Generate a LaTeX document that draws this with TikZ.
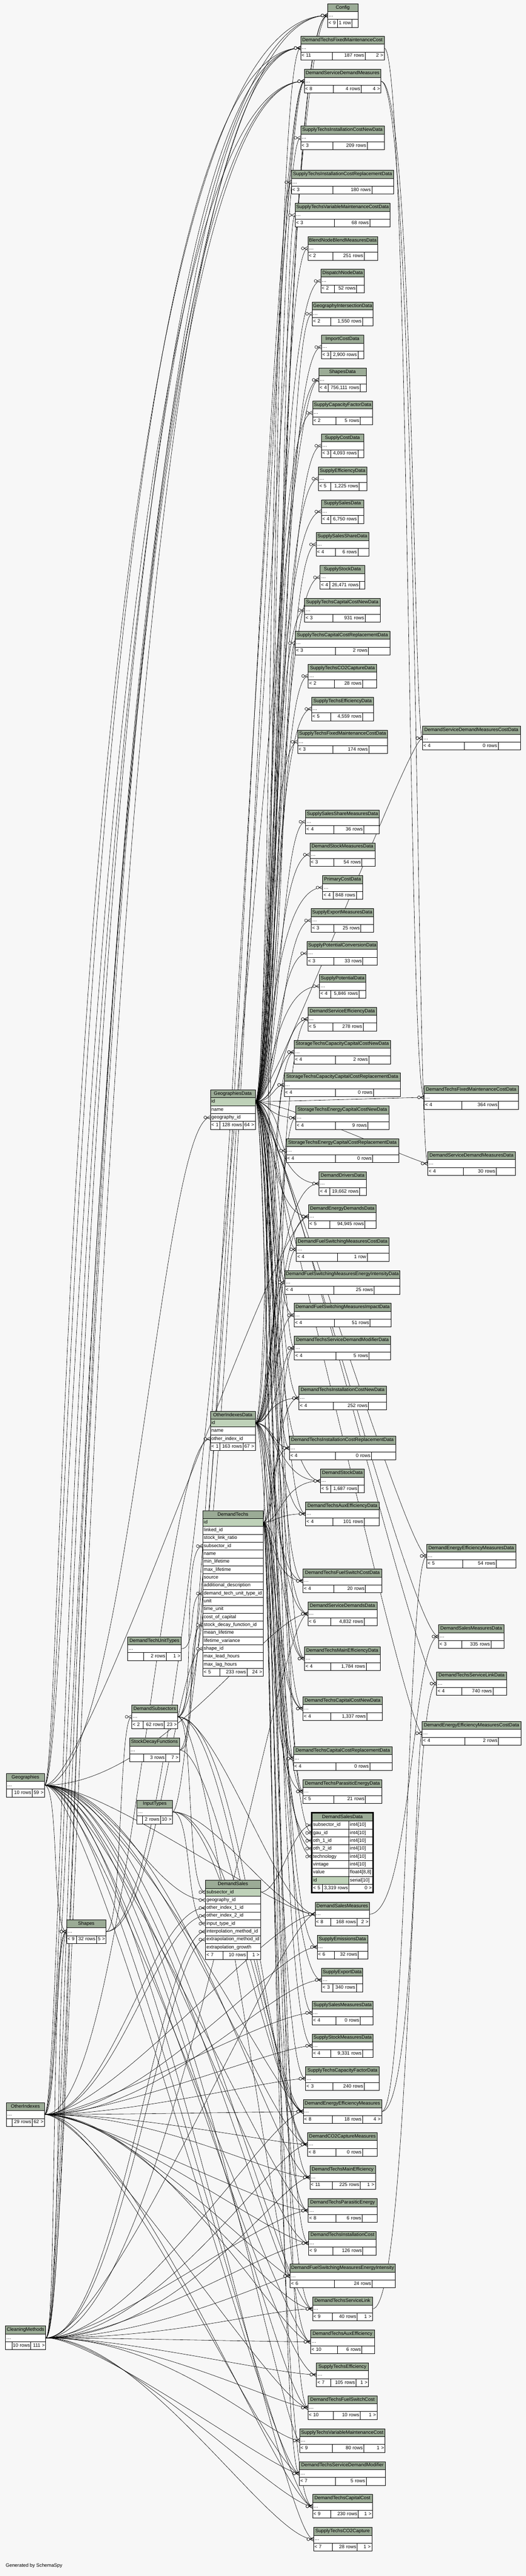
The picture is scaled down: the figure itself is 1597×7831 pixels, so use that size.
\documentclass[tikz,border=0pt]{standalone}
\usepackage{fontspec}
\setmainfont{Liberation Sans}
\pgfdeclarelayer{back}\pgfdeclarelayer{edges}\pgfsetlayers{back,edges,main}
\definecolor{bgc}{HTML}{F7F7F7}
\definecolor{hdrc}{HTML}{9BAB96}
\definecolor{pkc}{HTML}{BED1B8}
\newcommand\tf{\fontsize{11}{13}\selectfont}
\tikzset{
 cell/.style={draw=black, line width=0.75pt, inner xsep=2.25pt, inner ysep=0pt, outer sep=0pt, font=\tf, minimum height=18pt, text height=7.9pt, text depth=2.3pt},
 hd/.style={cell, fill=hdrc},
 bd/.style={cell, fill=white},
 pk/.style={cell, fill=pkc},
 edge/.style={line width=0.7pt, draw=black},
}
% style, align, name, x1, x2, yc, text
\newcommand\cellnode[7]{\pgfmathsetmacro\TW{(#5-#4)*0.75-4.5}\node[#1, text width=\TW pt, align=#2] (#3) at ({(#4+#5)/2},{#6}) {\mbox{#7}};}
\newcommand\tbl[5]{\def\tid{#1}\def\tx{#2}\def\ty{#3}\def\tX{#4}\def\ttl{#5}\tblB}
\newcommand\tblB[5]{%
 \cellnode{hd}{center}{\tid-h}{\tx}{\tX}{\ty+12}{\ttl}%
 \cellnode{bd}{left}{\tid}{\tx}{\tX}{\ty+36}{…}%
 \cellnode{bd}{left}{\tid-f1}{\tx}{#1}{\ty+60}{#3}%
 \cellnode{bd}{right}{\tid-f2}{#1}{#2}{\ty+60}{#4}%
 \cellnode{bd}{right}{\tid-f3}{#2}{\tX}{\ty+60}{#5}}
% footer of an expanded table: id, x1, s1, s2, x2, yc, c1, c2, c3
\newcommand\efoot[9]{%
 \cellnode{bd}{left}{#1-f1}{#2}{#3}{#6}{#7}%
 \cellnode{bd}{right}{#1-f2}{#3}{#4}{#6}{#8}%
 \cellnode{bd}{right}{#1-f3}{#4}{#5}{#6}{#9}}
\newcommand\crow[1]{%
 \draw[edge] (#1) ++(-11,0) -- ++(11,-5.5) (#1) ++(-11,0) -- ++(11,5.5);
 \draw[edge, fill=bgc] (#1) ++(-15.5,0) circle[radius=4.3];}
\newcommand\eCC[3]{\draw[edge] (#1.east) .. controls (#1.east -| k#3) and (#2.west -| k#3) .. (#2.west);\crow{#2.west}}
\newcommand\eRC[4]{\draw[edge] (#1.east) .. controls +(#3,0) and (#2.west -| k#4) .. (#2.west);\crow{#2.west}}
\newcommand\eRL[4]{\draw[edge] (#1.east) .. controls +(#3,0) and (#2.west -| l#4) .. (#2.west);\crow{#2.west}}
\newcommand\eKR[3]{\draw[edge] (#1.east) .. controls (#1.east -| k#3) and (#2.west -| r#3) .. (#2.west);\crow{#2.west}}
\newcommand\eRT[3]{\draw[edge] (#1.east) .. controls (#1.east -| r#3) and (#2.west -| r#3) .. (#2.west);\crow{#2.west}}
\newcommand\eRR[4]{\draw[edge] (#1.east) .. controls +(#3,0) and +(-#4,0) .. (#2.west);\crow{#2.west}}
\begin{document}
\begin{tikzpicture}[x=0.75pt,y=-0.75pt]
\useasboundingbox (0,0) rectangle (1597,7831);
\begin{pgfonlayer}{back}
\fill[bgc] (0,0) rectangle (1597,7831);
\end{pgfonlayer}
\foreach \n in {0,...,9}{\coordinate (k\n) at ({815+\n*5},0);\coordinate (r\n) at ({1226+\n*5},0);\coordinate (l\n) at ({185+\n*11},0);}
% ---------- main column ----------
\tbl{Config}{995}{11}{1087}{Config}{1024}{1069}{< 9}{1 row}{}
\tbl{DTFMC}{913}{110}{1167}{DemandTechsFixedMaintenanceCost}{1009}{1109}{< 11}{187 rows}{2 >}
\tbl{DSDM}{924}{211}{1157}{DemandServiceDemandMeasures}{1013}{1097}{< 8}{4 rows}{4 >}
\tbl{STICND}{913}{383}{1167}{SupplyTechsInstallationCostNewData}{1010}{1115}{< 3}{209 rows}{}
\tbl{STICRD}{885}{518}{1196}{SupplyTechsInstallationCostReplacementData}{1011}{1129}{< 3}{180 rows}{}
\tbl{STVMCD}{896}{618}{1185}{SupplyTechsVariableMaintenanceCostData}{1016}{1123}{< 3}{68 rows}{}
\tbl{BNBMD}{935}{719}{1147}{BlendNodeBlendMeasuresData}{1011}{1106}{< 2}{251 rows}{}
\tbl{DND}{974}{818}{1107}{DispatchNodeData}{1016}{1083}{< 2}{52 rows}{}
\tbl{GID}{948}{918}{1133}{GeographyIntersectionData}{1005}{1101}{< 2}{1,550 rows}{}
\tbl{ICD}{976}{1019}{1104}{ImportCostData}{1005}{1087}{< 3}{2,900 rows}{}
\tbl{SD}{968}{1119}{1112}{ShapesData}{997}{1094}{< 4}{756,111 rows}{}
\tbl{SCFD}{949}{1219}{1132}{SupplyCapacityFactorData}{1020}{1094}{< 2}{5 rows}{}
\tbl{SCD}{976}{1319}{1104}{SupplyCostData}{1005}{1087}{< 3}{4,093 rows}{}
\tbl{SED}{967}{1419}{1114}{SupplyEfficiencyData}{1005}{1091}{< 5}{1,225 rows}{}
\tbl{SSD}{976}{1519}{1104}{SupplySalesData}{1005}{1087}{< 4}{6,750 rows}{}
\tbl{SSSD}{960}{1619}{1120}{SupplySalesShareData}{1019}{1087}{< 4}{6 rows}{}
\tbl{SStD}{972}{1719}{1108}{SupplyStockData}{1001}{1092}{< 4}{26,471 rows}{}
\tbl{STCCND}{925}{1819}{1154}{SupplyTechsCapitalCostNewData}{1010}{1109}{< 3}{931 rows}{}
\tbl{STCCRD}{896}{1919}{1184}{SupplyTechsCapitalCostReplacementData}{1019}{1119}{< 3}{2 rows}{}
\tbl{STCOCD}{936}{2019}{1144}{SupplyTechsCO2CaptureData}{1015}{1101}{< 2}{28 rows}{}
\tbl{STED}{946}{2119}{1135}{SupplyTechsEfficiencyData}{1005}{1101}{< 5}{4,559 rows}{}
\tbl{STFMCD}{904}{2219}{1177}{SupplyTechsFixedMaintenanceCostData}{1011}{1120}{< 3}{174 rows}{}
\tbl{SSSMD}{928}{2462}{1152}{SupplySalesShareMeasuresData}{1014}{1105}{< 4}{36 rows}{}
\tbl{DSMD}{941}{2562}{1139}{DemandStockMeasuresData}{1014}{1099}{< 3}{54 rows}{}
\tbl{PCD}{980}{2662}{1101}{PrimaryCostData}{1012}{1082}{< 4}{848 rows}{}
\tbl{SEMD}{945}{2762}{1134}{SupplyExportMeasuresData}{1014}{1096}{< 3}{25 rows}{}
\tbl{SPCD}{933}{2862}{1146}{SupplyPotentialConversionData}{1014}{1102}{< 3}{33 rows}{}
\tbl{SPD}{970}{2962}{1111}{SupplyPotentialData}{1005}{1090}{< 4}{5,846 rows}{}
\tbl{DSED}{935}{3062}{1144}{DemandServiceEfficiencyData}{1011}{1103}{< 5}{278 rows}{}
\tbl{STCCCND}{893}{3162}{1186}{StorageTechsCapacityCapitalCostNewData}{1019}{1120}{< 4}{2 rows}{}
\tbl{STCCCRD}{863}{3262}{1216}{StorageTechsCapacityCapitalCostReplacementData}{1019}{1134}{< 4}{0 rows}{}
\tbl{STECCND}{898}{3362}{1181}{StorageTechsEnergyCapitalCostNewData}{1019}{1117}{< 4}{9 rows}{}
\tbl{STECCRD}{869}{3462}{1211}{StorageTechsEnergyCapitalCostReplacementData}{1019}{1132}{< 4}{0 rows}{}
\tbl{DDD}{969}{3562}{1112}{DemandDriversData}{1001}{1092}{< 4}{19,662 rows}{}
\tbl{DEDD}{937}{3662}{1142}{DemandEnergyDemandsData}{1001}{1108}{< 5}{94,945 rows}{}
\tbl{DFSMCD}{900}{3762}{1181}{DemandFuelSwitchingMeasuresCostData}{1024}{1115}{< 4}{1 row}{}
\tbl{DFSMEID}{865}{3862}{1214}{DemandFuelSwitchingMeasuresEnergyIntensityData}{1014}{1136}{< 4}{25 rows}{}
\tbl{DFSMID}{893}{3962}{1188}{DemandFuelSwitchingMeasuresImpactData}{1016}{1124}{< 4}{51 rows}{}
\tbl{DTSDMD}{894}{4062}{1186}{DemandTechsServiceDemandModifierData}{1020}{1121}{< 4}{5 rows}{}
\tbl{DTICND}{908}{4214}{1173}{DemandTechsInstallationCostNewData}{1012}{1119}{< 4}{252 rows}{}
\tbl{DTICRD}{879}{4366}{1201}{DemandTechsInstallationCostReplacementData}{1019}{1128}{< 4}{0 rows}{}
\tbl{DStD}{973}{4466}{1107}{DemandStockData}{1005}{1088}{< 5}{1,687 rows}{}
\tbl{DTAED}{928}{4566}{1152}{DemandTechsAuxEfficiencyData}{1011}{1106}{< 4}{101 rows}{}
\tbl{DTFSCD}{920}{4770}{1160}{DemandTechsFuelSwitchCostData}{1014}{1110}{< 4}{20 rows}{}
\tbl{DSDD}{935}{4870}{1145}{DemandServiceDemandsData}{1004}{1106}{< 6}{4,832 rows}{}
\tbl{DTMED}{925}{5006}{1154}{DemandTechsMainEfficiencyData}{1004}{1112}{< 4}{1,784 rows}{}
\tbl{DTCCND}{920}{5158}{1161}{DemandTechsCapitalCostNewData}{1005}{1114}{< 4}{1,337 rows}{}
\tbl{DTCCRD}{891}{5310}{1191}{DemandTechsCapitalCostReplacementData}{1020}{1123}{< 4}{0 rows}{}
\tbl{DTPED}{920}{5410}{1160}{DemandTechsParasiticEnergyData}{1014}{1110}{< 5}{21 rows}{}
\tbl{DSM}{957}{5783}{1122}{DemandSalesMeasures}{1005}{1084}{< 8}{168 rows}{2 >}
\tbl{SEmD}{963}{5883}{1117}{SupplyEmissionsData}{1016}{1088}{< 6}{32 rows}{}
\tbl{SExD}{977}{5983}{1102}{SupplyExportData}{1011}{1082}{< 3}{340 rows}{}
\tbl{SSMD}{948}{6083}{1133}{SupplySalesMeasuresData}{1020}{1094}{< 4}{0 rows}{}
\tbl{SStMD}{948}{6183}{1133}{SupplyStockMeasuresData}{1005}{1101}{< 4}{9,331 rows}{}
\tbl{STCFD}{928}{6283}{1152}{SupplyTechsCapacityFactorData}{1011}{1106}{< 3}{240 rows}{}
\tbl{DEEM}{921}{6383}{1159}{DemandEnergyEfficiencyMeasures}{1009}{1101}{< 8}{18 rows}{4 >}
\tbl{DCOCM}{934}{6483}{1146}{DemandCO2CaptureMeasures}{1020}{1101}{< 8}{0 rows}{}
\tbl{DTME}{941}{6583}{1140}{DemandTechsMainEfficiency}{1009}{1094}{< 11}{225 rows}{1 >}
\tbl{DTPE}{936}{6684}{1145}{DemandTechsParasiticEnergy}{1020}{1100}{< 8}{6 rows}{}
\tbl{DTIC}{937}{6783}{1143}{DemandTechsInstallationCost}{1011}{1102}{< 9}{126 rows}{}
\tbl{DFSMEI}{881}{6883}{1200}{DemandFuelSwitchingMeasuresEnergyIntensity}{1016}{1130}{< 6}{24 rows}{}
\tbl{DTSL}{949}{6983}{1131}{DemandTechsServiceLink}{1009}{1085}{< 9}{40 rows}{1 >}
\tbl{DTAE}{943}{7083}{1137}{DemandTechsAuxEfficiency}{1024}{1099}{< 10}{6 rows}{}
\tbl{STE}{961}{7183}{1119}{SupplyTechsEfficiency}{1005}{1081}{< 7}{105 rows}{1 >}
\tbl{DTFSC}{935}{7283}{1145}{DemandTechsFuelSwitchCost}{1013}{1094}{< 10}{10 rows}{1 >}
\tbl{STVMC}{910}{7383}{1169}{SupplyTechsVariableMaintenanceCost}{1009}{1105}{< 9}{80 rows}{1 >}
\tbl{DTSDM}{909}{7483}{1171}{DemandTechsServiceDemandModifier}{1019}{1112}{< 7}{5 rows}{}
\tbl{DTCC}{949}{7583}{1131}{DemandTechsCapitalCost}{1005}{1088}{< 9}{230 rows}{1 >}
\tbl{STCOC}{952}{7683}{1129}{SupplyTechsCO2Capture}{1009}{1085}{< 7}{28 rows}{1 >}
% ---------- right column ----------
\tbl{DSDMCD}{1283}{2208}{1580}{DemandServiceDemandMeasuresCostData}{1410}{1513}{< 4}{0 rows}{}
\tbl{DTFMCD}{1288}{3300}{1574}{DemandTechsFixedMaintenanceCostData}{1402}{1514}{< 4}{364 rows}{}
\tbl{DSDMD}{1299}{3501}{1565}{DemandServiceDemandMeasuresData}{1407}{1507}{< 4}{30 rows}{}
\tbl{DEEMD}{1296}{4694}{1566}{DemandEnergyEfficiencyMeasuresData}{1405}{1507}{< 5}{54 rows}{}
\tbl{DSaMD}{1332}{4939}{1530}{DemandSalesMeasuresData}{1402}{1491}{< 3}{335 rows}{}
\tbl{DTSLD}{1326}{5082}{1538}{DemandTechsServiceLinkData}{1403}{1497}{< 4}{740 rows}{}
\tbl{DEEMCD}{1282}{5233}{1582}{DemandEnergyEfficiencyMeasuresCostData}{1411}{1514}{< 4}{2 rows}{}
% ---------- left tables ----------
\tbl{DTUT}{387}{4976}{551}{DemandTechUnitTypes}{436}{505}{}{2 rows}{1 >}
\tbl{DSub}{400}{5183}{540}{DemandSubsectors}{435}{499}{< 2}{62 rows}{23 >}
\tbl{SDF}{393}{5284}{545}{StockDecayFunctions}{436}{503}{}{3 rows}{7 >}
\tbl{IT}{416}{5472}{524}{InputTypes}{433}{487}{}{2 rows}{10 >}
\tbl{Geo}{19}{5391}{135}{Geographies}{37}{98}{}{10 rows}{59 >}
\tbl{Shp}{202}{5836}{322}{Shapes}{232}{293}{< 9}{32 rows}{5 >}
\tbl{OI}{19}{6392}{135}{OtherIndexes}{37}{98}{}{29 rows}{62 >}
\tbl{CM}{16}{7071}{139}{CleaningMethods}{36}{93}{}{10 rows}{111 >}
% GeographiesData
\cellnode{hd}{center}{GD-h}{639}{775}{3325}{GeographiesData}
\cellnode{pk}{left}{GD-id}{639}{775}{3349}{id}
\cellnode{bd}{left}{GD-name}{639}{775}{3373}{name}
\cellnode{bd}{left}{GD-geo}{639}{775}{3397}{geography\_id}
\efoot{GD}{639}{668}{738}{775}{3421}{< 1}{128 rows}{64 >}
% OtherIndexesData
\cellnode{hd}{center}{OD-h}{639}{775}{4302}{OtherIndexesData}
\cellnode{pk}{left}{OD-id}{639}{775}{4326}{id}
\cellnode{bd}{left}{OD-name}{639}{775}{4350}{name}
\cellnode{bd}{left}{OD-oi}{639}{775}{4374}{other\_index\_id}
\efoot{OD}{639}{668}{738}{775}{4398}{< 1}{163 rows}{67 >}
% DemandTechs
\cellnode{hd}{center}{DT-h}{616}{799}{4604}{DemandTechs}
\cellnode{pk}{left}{DT-id}{616}{799}{4628}{id}
\foreach \rn/\rt [count=\i] in {lnk/linked\_id,slr/stock\_link\_ratio,sub/subsector\_id,nm/name,minl/min\_lifetime,maxl/max\_lifetime,src/source,ad/additional\_description,dtut/demand\_tech\_unit\_type\_id,unit/unit,tu/time\_unit,coc/cost\_of\_capital,sdf/stock\_decay\_function\_id,ml/mean\_lifetime,lv/lifetime\_variance,shape/shape\_id,mlead/max\_lead\_hours,mlag/max\_lag\_hours}{\cellnode{bd}{left}{DT-\rn}{616}{799}{4628+24*\i}{\rt}}
\efoot{DT}{616}{668}{750}{799}{5084}{< 5}{233 rows}{24 >}
% DemandSales
\cellnode{hd}{center}{DSa-h}{624}{791}{5728}{DemandSales}
\cellnode{pk}{left}{DSa-sub}{624}{791}{5752}{subsector\_id}
\foreach \rn/\rt [count=\i] in {geo/geography\_id,o1/other\_index\_1\_id,o2/other\_index\_2\_id,it/input\_type\_id,ip/interpolation\_method\_id,ep/extrapolation\_method\_id,eg/extrapolation\_growth}{\cellnode{bd}{left}{DSa-\rn}{624}{791}{5752+24*\i}{\rt}}
\efoot{DSa}{624}{677}{750}{791}{5944}{< 7}{10 rows}{1 >}
% DemandSalesData (focus table)
\cellnode{hd}{center}{DSaD-h}{948}{1132}{5524}{DemandSalesData}
\foreach \rn/\rt/\ty [count=\i] in {sub/subsector\_id/int4[10],gau/gau\_id/int4[10],o1/oth\_1\_id/int4[10],o2/oth\_2\_id/int4[10],tech/technology/int4[10],vint/vintage/int4[10],val/value/{float4[8,8]}}{\cellnode{bd}{left}{DSaD-\rn}{948}{1060}{5524+24*\i}{\rt}\cellnode{bd}{left}{DSaD-\rn t}{1060}{1132}{5524+24*\i}{\ty}}
\cellnode{pk}{left}{DSaD-id}{948}{1060}{5716}{id}
\cellnode{bd}{left}{DSaD-idt}{1060}{1132}{5716}{serial[10]}
\efoot{DSaD}{948}{979}{1060}{1132}{5740}{< 5}{3,319 rows}{0 >}
\draw[line width=2.4pt] (946.4,5510.4) rectangle (1133.6,5753.6);
\node[font=\tf, anchor=west, inner sep=0pt] (gen) at (17,7799) {Generated by SchemaSpy};
% ---------- connectors ----------
\begin{pgfonlayer}{edges}
\foreach \ch [count=\i] in {Config,STICND,STICRD,STVMCD,BNBMD,DND,GID,ICD,SD,SCFD,SCD,SED,SSD,SSSD,SStD,STCCND,STCCRD,STCOCD,STED,STFMCD,SSSMD,DSMD,PCD,SEMD,SPCD,SPD,DSED,STCCCND,STCCCRD,STECCND,STECCRD,DDD,DEDD,DFSMCD,DFSMEID,DFSMID,DTSDMD,DTICND,DTICRD,DStD,DTAED,DTFSCD,DSDD,DTMED,DTCCND,DTCCRD,DTPED,DSaD-gau,SEmD,SExD,SSMD,SStMD,STCFD}{\pgfmathtruncatemacro\kk{mod(\i*7,10)}\eCC{GD-id}{\ch}{\kk}}
\foreach \ch [count=\i] in {DSDMCD,DTFMCD,DSDMD,DEEMD,DSaMD,DTSLD,DEEMCD}{\pgfmathtruncatemacro\kk{mod(\i*3,10)}\eKR{GD-id}{\ch}{\kk}}
\foreach \ch [count=\i] in {Config,DSED,STCCCND,STCCCRD,STECCND,STECCRD,DDD,DEDD,DFSMCD,DFSMEID,DFSMID,DTSDMD,DTICND,DTICRD,DStD,DTAED,DTFSCD,DSDD,DTMED,DTCCND,DTCCRD,DTPED,DSaD-o1,DSaD-o2}{\pgfmathtruncatemacro\kk{mod(\i*3+1,10)}\eCC{OD-id}{\ch}{\kk}}
\foreach \ch [count=\i] in {DTFMC,DTSDMD,DTICND,DTICRD,DStD,DTAED,DTFSCD,DTMED,DTCCND,DTCCRD,DTPED,DSaD-tech,DTME,DTPE,DTIC,DTSL,DTAE,DTFSC,DTSDM,DTCC}{\pgfmathtruncatemacro\kk{mod(\i*7+3,10)}\eCC{DT-id}{\ch}{\kk}}
\foreach \ch [count=\i] in {DSM,DEEM,DCOCM,DTME,DTPE,DTIC,DFSMEI,DTSL,DTAE,STE,DTFSC,STVMC,DTSDM,DTCC,STCOC,DSDD,DEDD}{\pgfmathtruncatemacro\kk{mod(\i*3+2,10)}\pgfmathtruncatemacro\ax{120+mod(\i*67,280)}\eRC{Geo}{\ch}{\ax}{\kk}}
\foreach \ch [count=\i] in {DSM,DEEM,DCOCM,DTME,DTPE,DTIC,DFSMEI,DTSL,DTAE,DTFSC,DTSDM,DTCC,SEmD,SExD,SSMD,SStMD,STCFD}{\pgfmathtruncatemacro\kk{mod(\i*7+5,10)}\pgfmathtruncatemacro\ax{140+mod(\i*53,260)}\eRC{OI}{\ch}{\ax}{\kk}}
\foreach \ch [count=\i] in {DSM,DEEM,DCOCM,DTME,DTPE,DTIC,DFSMEI,DTSL,DTAE,STE,DTFSC,STVMC,DTSDM,DTCC,STCOC,DSDD}{\pgfmathtruncatemacro\kk{mod(\i*3+6,10)}\pgfmathtruncatemacro\ax{130+mod(\i*71,300)}\eRC{CM}{\ch}{\ax}{\kk}}
\foreach \ch [count=\i] in {Config,DTFMC,DSDM}{\pgfmathtruncatemacro\kk{\i*3-2}\eRL{Geo}{\ch}{50+\i*12}{\kk}}
\foreach \ch [count=\i] in {Config,DTFMC,DSDM}{\pgfmathtruncatemacro\kk{\i*3-1}\eRL{OI}{\ch}{60+\i*12}{\kk}}
\foreach \ch [count=\i] in {Config,DTFMC,DTFMC,DSDM}{\pgfmathtruncatemacro\kk{mod(\i*3,10)}\eRL{CM}{\ch}{70+\i*10}{\kk}}
\foreach \ch [count=\i] in {DSM,DEEM,DCOCM,DFSMEI,Config,DSDM}{\pgfmathtruncatemacro\kk{mod(\i*3+4,10)}\pgfmathtruncatemacro\ax{80+mod(\i*41,150)}\eRC{DSub}{\ch}{\ax}{\kk}}
\foreach \ch [count=\i] in {DSM,DEEM,DCOCM,DSDM}{\pgfmathtruncatemacro\kk{mod(\i*7+8,10)}\pgfmathtruncatemacro\ax{90+mod(\i*37,140)}\eRC{IT}{\ch}{\ax}{\kk}}
\foreach \ch [count=\i] in {DEEM,DSDM}{\pgfmathtruncatemacro\kk{mod(\i*5+1,10)}\eRC{SDF}{\ch}{120}{\kk}}
\eRR{Geo}{GD-geo}{250}{150}
\eRR{Geo}{DSa-geo}{200}{150}
\eRR{Geo}{Shp}{45}{45}
\eRR{OI}{OD-oi}{250}{150}
\eRR{OI}{DSa-o1}{200}{160}
\eRR{OI}{DSa-o2}{210}{140}
\eRR{OI}{Shp}{40}{40}
\eRR{CM}{DSa-ip}{220}{140}
\eRR{CM}{DSa-ep}{230}{120}
\eRR{CM}{Shp}{35}{50}
\eRR{CM}{Shp}{45}{30}
\eRR{DSub}{DT-sub}{60}{70}
\eRR{DSub}{DSa-sub}{50}{60}
\eRR{IT}{DSa-it}{60}{60}
\eRR{SDF}{DT-sdf}{60}{60}
\eRR{DTUT}{DT-dtut}{50}{50}
\eRR{Shp}{DT-shape}{150}{80}
\eRR{Shp}{DSub}{50}{40}
\eRC{Shp}{SD}{300}{2}
\eRR{DSa-sub}{DSaD-sub}{60}{60}
\eRT{DTFMC}{DTFMCD}{3}
\eRT{DSDM}{DSDMCD}{6}
\eRT{DSDM}{DSDMD}{8}
\eRT{DSM}{DSaMD}{5}
\eRT{DEEM}{DEEMD}{2}
\eRT{DEEM}{DEEMCD}{7}
\eRT{DTSL}{DTSLD}{4}
\end{pgfonlayer}
\end{tikzpicture}
\end{document}
